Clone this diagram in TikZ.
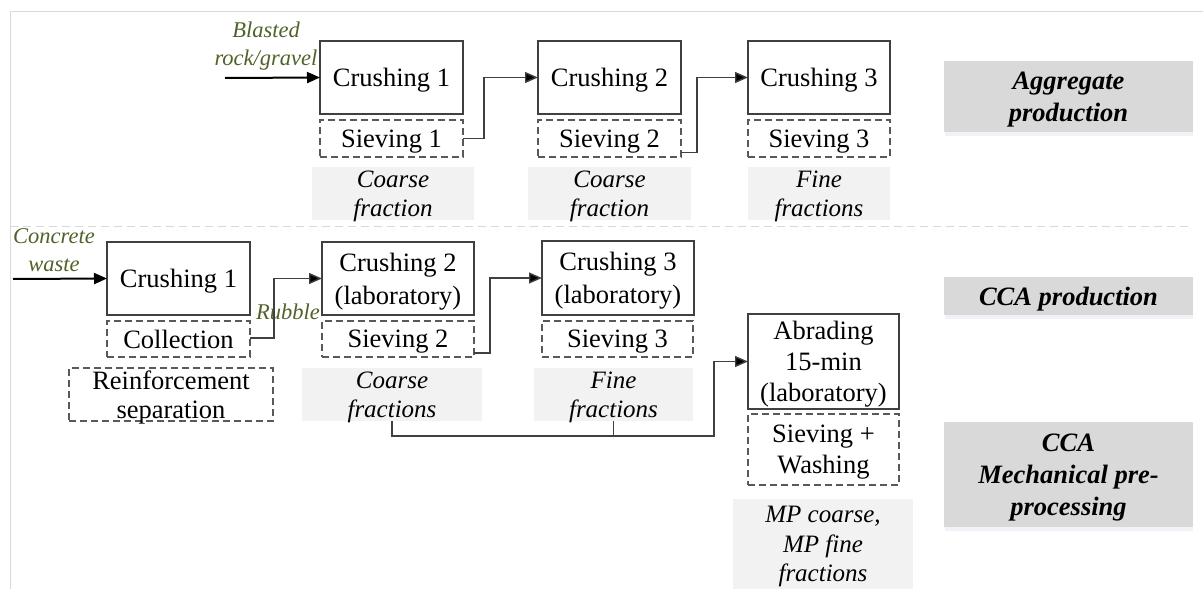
\documentclass[tikz,border=0pt]{standalone}
\usepackage{fontspec}
\setmainfont{Liberation Serif}
\usetikzlibrary{arrows.meta,calc}
\definecolor{olivetxt}{HTML}{4F6228}
\definecolor{boxline}{HTML}{404040}
\definecolor{dashline}{HTML}{595959}
\definecolor{connline}{HTML}{404040}
\definecolor{fracfill}{HTML}{F2F2F2}
\definecolor{labfill}{HTML}{D9D9D9}
\definecolor{framecol}{HTML}{D9D9D9}
\definecolor{shadowcol}{HTML}{F0F2F7}
\begin{document}
\begin{tikzpicture}[x=1pt,y=-1pt,
  every node/.style={inner sep=0pt, outer sep=0pt, align=center, text depth=0pt},
  solidbox/.style={draw=boxline, line width=1.2pt, rectangle, font=\fontsize{26.5}{33}\selectfont},
  dashbox/.style={draw=dashline, line width=1.2pt, dash pattern=on 7pt off 4pt, rectangle, font=\fontsize{26.5}{29}\selectfont},
  fracbox/.style={fill=fracfill, rectangle, font=\itshape\fontsize{25}{29}\selectfont},
  labbox/.style={fill=labfill, rectangle, font=\bfseries\itshape\fontsize{26.5}{32}\selectfont},
  greentxt/.style={text=olivetxt, font=\itshape\fontsize{22.5}{28}\selectfont},
  conn/.style={draw=connline, line width=1.4pt},
  arr/.style={conn, -{Triangle[length=13pt,width=11pt,fill=black]}},
  inarr/.style={draw=black, line width=2pt, -{Triangle[length=13pt,width=11pt]}}
]
\useasboundingbox (0,0) rectangle (1203,589);
% frame
\draw[framecol, line width=1pt] (10,589) -- (10,11) -- (1203,11);
\draw[framecol, line width=1pt, dash pattern=on 8pt off 5pt] (10,226) -- (1190,226);

% label shadows
\fill[shadowcol] (945,64) rectangle (1193,136);
\fill[shadowcol] (945,280) rectangle (1193,319);
\fill[shadowcol] (945,425) rectangle (1193,531);

% right labels
\node[labbox, minimum width=249, minimum height=71] (agg) at (1068.5,96.5) {Aggregate\\production};
\node[labbox, minimum width=249, minimum height=38] (ccap) at (1068.5,296) {CCA production};
\node[labbox, minimum width=249, minimum height=105] (ccam) at (1068.5,474.5) {CCA\\Mechanical pre-\\processing};

% top row
\node[solidbox, minimum width=143, minimum height=73] (c1a) at (391.5,77.5) {Crushing 1};
\node[dashbox, minimum width=143, minimum height=37] (s1a) at (391.5,138.5) {Sieving 1};
\node[fracbox, minimum width=162, minimum height=53] (f1a) at (393,193.5) {Coarse\\fraction};
\node[solidbox, minimum width=143, minimum height=73] (c2a) at (609.5,77.5) {Crushing 2};
\node[dashbox, minimum width=143, minimum height=37] (s2a) at (609.5,138.5) {Sieving 2};
\node[fracbox, minimum width=163, minimum height=53] (f2a) at (609.5,193.5) {Coarse\\fraction};
\node[solidbox, minimum width=142, minimum height=73] (c3a) at (819,77.5) {Crushing 3};
\node[dashbox, minimum width=142, minimum height=37] (s3a) at (819,138.5) {Sieving 3};
\node[fracbox, minimum width=142, minimum height=53] (f3a) at (819,193.5) {Fine\\fractions};
\node[greentxt] (blast) at (266,44) {Blasted\\rock/gravel};
\coordinate (inA) at (225,78);

\draw[inarr] (inA) -- (c1a.west);
\draw[arr] (s1a.east) -- ++(21,0) |- (c2a.west);
\draw[arr] ($(s2a.east)+(0,14)$) -- ++(16,0) |- (c3a.west);

% bottom row
\node[greentxt] (conc) at (54,250) {Concrete\\waste};
\coordinate (inB) at (13,279);
\node[solidbox, minimum width=143, minimum height=73] (c1b) at (178.5,278.5) {Crushing 1};
\node[dashbox, minimum width=143, minimum height=36] (colb) at (178.5,339) {Collection};
\node[dashbox, minimum width=204, minimum height=53] (reinf) at (171,394.5) {Reinforcement\\separation};
\node[greentxt] (rub) at (288,312) {Rubble};
\node[solidbox, minimum width=152, minimum height=73] (c2b) at (398,278.5) {Crushing 2\\(laboratory)};
\node[dashbox, minimum width=152, minimum height=36] (s2b) at (398,339) {Sieving 2};
\node[fracbox, minimum width=180, minimum height=53] (f2b) at (392,394.5) {Coarse\\fractions};
\node[solidbox, minimum width=152, minimum height=74] (c3b) at (618,278) {Crushing 3\\(laboratory)};
\node[dashbox, minimum width=151, minimum height=36] (s3b) at (617.5,339) {Sieving 3};
\node[fracbox, minimum width=159, minimum height=53] (f3b) at (613.5,394.5) {Fine\\fractions};
\node[solidbox, minimum width=151, minimum height=95, font=\fontsize{26.5}{31}\selectfont] (ab) at (823.5,361.5) {Abrading\\15-min\\(laboratory)};
\node[dashbox, minimum width=151, minimum height=71, font=\fontsize{26.5}{31}\selectfont] (sw) at (823.5,449.5) {Sieving +\\Washing};
\node[fracbox, minimum width=180, minimum height=90, font=\itshape\fontsize{25}{29.5}\selectfont] (mp) at (823,544) {MP coarse,\\MP fine\\fractions};

\coordinate (j) at (714,436);
\draw[inarr] (inB) -- (c1b.west);
\draw[arr] ($(colb.east)+(0,-1)$) -- ++(24,0) |- (c2b.west);
\draw[arr] ($(s2b.east)+(0,14)$) -- ++(16,0) |- (c3b.west);
\draw[arr] (f2b.south) |- (j) |- (ab.west);
\draw[conn] (f3b.south) -- (f3b.south |- j);
\end{tikzpicture}
\end{document}
